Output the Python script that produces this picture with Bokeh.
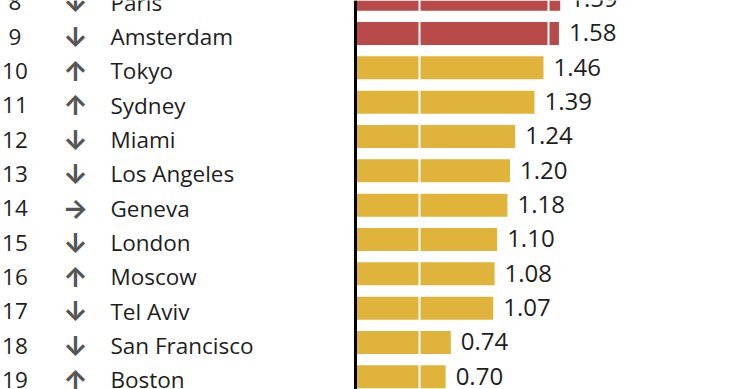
from bokeh.plotting import figure
from bokeh.models import ColumnDataSource, Range1d
from bokeh.core.properties import value
from bokeh.transform import dodge
from bokeh.embed import file_html
from bokeh.resources import INLINE

# ---- data ----
ranks = [8, 9, 10, 11, 12, 13, 14, 15, 16, 17, 18, 19]
cities = ["Paris", "Amsterdam", "Tokyo", "Sydney", "Miami", "Los Angeles",
          "Geneva", "London", "Moscow", "Tel Aviv", "San Francisco", "Boston"]
scores = [1.59, 1.58, 1.46, 1.39, 1.24, 1.20, 1.18, 1.10, 1.08, 1.07, 0.74, 0.70]
trends = ["down", "down", "up", "up", "down", "down", "flat", "down", "up",
          "down", "down", "up"]
zone_limits = [0.5, 1.5]
bubble_threshold = 1.5

arrow_glyph = {"up": "\u2191", "down": "\u2193", "flat": "\u2192"}
RED = "#b94a4a"
YELLOW = "#e0b33b"
TEXT = "#1e1e1e"

src = ColumnDataSource(dict(
    rank=ranks,
    city=cities,
    score=scores,
    label=[f"{v:.2f}" for v in scores],
    arrow=[arrow_glyph[t] for t in trends],
    color=[RED if v >= bubble_threshold else YELLOW for v in scores],
))

W, H = 740, 389
p = figure(width=W, height=H,
           x_range=Range1d(-2.757, 2.990),
           y_range=Range1d(19.370, 8.039),
           output_backend="svg", toolbar_location=None,
           x_axis_type=None, y_axis_type=None,
           min_border=0, outline_line_color=None,
           background_fill_color="white", border_fill_color="white")
p.grid.visible = False

p.hbar(y="rank", left=0, right="score", height=0.67, fill_color="color",
       line_color=None, source=src)

# zone separators drawn over the bars, under the labels
p.vspan(x=zone_limits, line_color="white", line_width=2)
p.vspan(x=[0], line_color="black", line_width=3)

# rank numbers
p.text(x=-2.645, y=dodge("rank", 0.09, range=p.y_range), text="rank", source=src,
       text_font=value("Open Sans"), text_font_size="22.5px",
       text_align="center", text_baseline="alphabetic", text_color=TEXT)
# trend arrows
p.text(x=-2.175, y=dodge("rank", 0.11, range=p.y_range), text="arrow", source=src,
       text_font=value("Inter"), text_font_size="27px", text_font_style="bold",
       text_align="center", text_baseline="alphabetic", text_color="#555555")
# city names
p.text(x=-1.903, y=dodge("rank", 0.09, range=p.y_range), text="city", source=src,
       text_font=value("Open Sans"), text_font_size="22.5px",
       text_align="left", text_baseline="alphabetic", text_color=TEXT)
# values
p.text(x="score", y=dodge("rank", -0.02, range=p.y_range), text="label", source=src,
       x_offset=10, text_font=value("Open Sans"), text_font_size="24px",
       text_align="left", text_baseline="alphabetic", text_color=TEXT)

open("out.html", "w").write(file_html(p, INLINE))
